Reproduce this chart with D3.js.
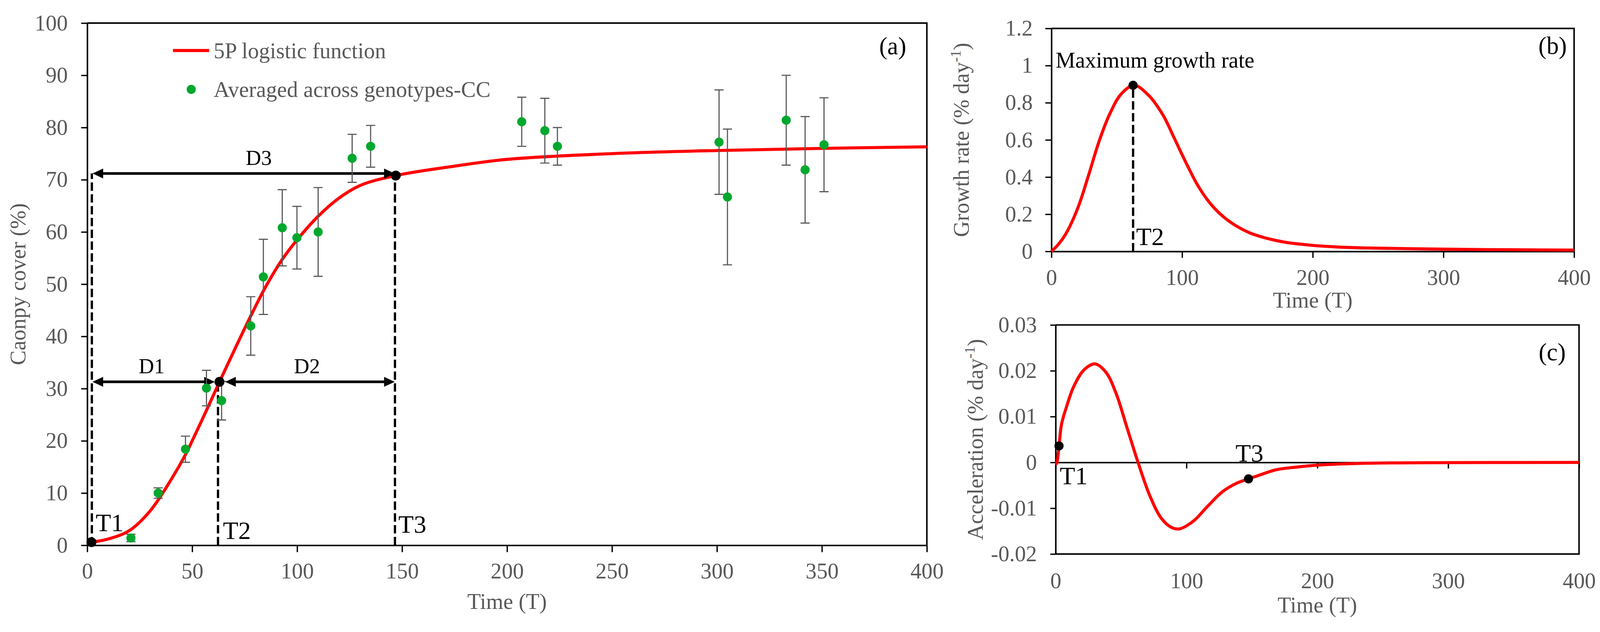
<!DOCTYPE html>
<html>
<head>
<meta charset="utf-8">
<script src="https://cdn.jsdelivr.net/npm/d3@7"></script>
<style>
  html, body { margin: 0; padding: 0; background: #fff; overflow: hidden; }
  #chart svg { display: block; width: 100vw; height: 100vh; }
  text { font-family: "Liberation Serif", "Times New Roman", serif; }
</style>
</head>
<body>
<div id="chart"></div>
<script>
// ---- values ----
// panel (a): averaged canopy cover with error bars
var obsTime = [20.8, 33.8, 46.8, 56.8, 64, 77.9, 83.9, 92.9, 99.9, 110, 126.2, 135, 207, 218, 224, 301, 305, 333, 342, 351];
var obsMean = [1.4, 10.0, 18.4, 30.1, 27.7, 42.0, 51.4, 60.8, 58.9, 60.0, 74.1, 76.4, 81.1, 79.4, 76.4, 77.2, 66.7, 81.4, 71.9, 76.7];
var obsErr  = [0.7, 1.0, 2.5, 3.4, 3.7, 5.6, 7.2, 7.3, 6.0, 8.5, 4.6, 4.0, 4.7, 6.2, 3.6, 10.0, 13.0, 8.6, 10.2, 9.0];

// panel (a): fitted 5P logistic curve
var fitTime  = [2, 10, 20, 30, 40, 47, 50, 57, 63, 70, 78, 85, 93, 100, 110, 120, 130, 147, 175, 200, 250, 300, 350, 400];
var fitCover = [0.6, 1.2, 2.8, 6.6, 12.6, 17.5, 20.0, 26.0, 31.3, 37.3, 44.0, 49.5, 54.8, 58.5, 63.0, 66.5, 68.9, 70.8, 72.6, 73.9, 75.0, 75.6, 76.0, 76.3];

// panel (b): growth rate
var rateTime = [0, 5, 11, 20, 28, 36.5, 44.4, 53.3, 63.2, 74.5, 85.7, 93.3, 103, 112.7, 122.4, 132.2, 141.9, 151.6, 161.3, 171, 180.8, 190.5, 200, 220, 240, 300, 350, 400];
var rate     = [0, 0.035, 0.094, 0.23, 0.40, 0.593, 0.736, 0.846, 0.894, 0.839, 0.73, 0.62, 0.477, 0.347, 0.251, 0.183, 0.135, 0.100, 0.077, 0.060, 0.047, 0.039, 0.032, 0.023, 0.0185, 0.012, 0.009, 0.007];

// panel (c): acceleration
var accTime = [0, 0.8, 2.6, 4.5, 8.4, 13.9, 21.7, 30.1, 38.4, 46.3, 54.1, 63, 71.9, 80.8, 88.6, 94.7, 105.3, 116.4, 127.5, 138.7, 147.4, 155.5, 168.6, 185, 200, 235, 300, 400];
var acc     = [-0.0004, -0.0002, 0.0036, 0.0083, 0.0122, 0.0166, 0.0202, 0.0215, 0.0197, 0.0150, 0.0080, 0, -0.0072, -0.0122, -0.0142, -0.0145, -0.0128, -0.0095, -0.0064, -0.0045, -0.0036, -0.0028, -0.0016, -0.0010, -0.0006, -0.0002, -0.00005, 0];

// key points
var keyNames = ["T1", "T2", "T3"];
var keyTimeA = [2.0, 63, 147];
var keyCover = [0.6, 31.3, 70.8];
var dashTime = [2.2, 62.3, 146.6];
var dashTop  = [71.2, 31.3, 70.8];

var spanNames = ["D1", "D2", "D3"];
var spanFrom  = [2.5, 65.7, 2.5];
var spanTo    = [60.8, 146.5, 146.5];
var spanLevel = [31.3, 31.3, 71.2];
var spanLabelT = [30.7, 104.7, 81.7];

var peakTime = 62.5, peakRate = 0.894;
var accKeyTime = [2.6, 147.4];
var accKeyVal  = [0.0036, -0.0036];

// tick labels
var ticksA_x = [0, 50, 100, 150, 200, 250, 300, 350, 400];
var ticksA_y = [0, 10, 20, 30, 40, 50, 60, 70, 80, 90, 100];
var ticksB_x = [0, 100, 200, 300, 400];
var ticksB_y = [0, 0.2, 0.4, 0.6, 0.8, 1, 1.2];
var ticksC_y = [-0.02, -0.01, 0, 0.01, 0.02, 0.03];

var grey = "#595959", green = "#00a82d", red = "#ff0000";
var fs = 58;

var svg = d3.select("#chart").append("svg")
    .attr("viewBox", "0 0 4200 1617")
    .attr("width", 4200)
    .attr("height", 1617);

// scales
var xA = d3.scaleLinear().domain([0, 400]).range([229, 2433]);
var yA = d3.scaleLinear().domain([0, 100]).range([1410, 40]);
var xB = d3.scaleLinear().domain([0, 400]).range([2760, 4132]);
var yB = d3.scaleLinear().domain([0, 1.2]).range([639, 54]);
var xC = d3.scaleLinear().domain([0, 400]).range([2771, 4145]);
var yC = d3.scaleLinear().domain([-0.02, 0.03]).range([1433, 832]);

function styleAxis(g, showText) {
    g.select(".domain").attr("stroke", "#000").attr("stroke-width", 4);
    g.selectAll(".tick line").attr("stroke", "#000").attr("stroke-width", 3.5);
    g.selectAll(".tick text")
        .attr("fill", grey)
        .style("font-size", fs + "px")
        .style("font-family", '"Liberation Serif", serif')
        .style("display", showText ? null : "none");
}

function frame(x, y) {
    svg.append("path")
        .attr("d", "M" + x.range()[0] + "," + y.range()[1] + "H" + x.range()[1] + "V" + y.range()[0])
        .attr("fill", "none")
        .attr("stroke", "#000")
        .attr("stroke-width", 4);
}

function fmt(d) { return String(+d.toFixed(3)); }

var smooth = d3.curveCatmullRom.alpha(0.5);

// ================= panel (a) =================
frame(xA, yA);
svg.append("g").attr("transform", "translate(0," + yA(0) + ")")
    .call(d3.axisBottom(xA).tickValues(ticksA_x).tickSizeInner(18).tickSizeOuter(0).tickPadding(28).tickFormat(fmt))
    .call(styleAxis, true);
svg.append("g").attr("transform", "translate(" + xA(0) + ",0)")
    .call(d3.axisLeft(yA).tickValues(ticksA_y).tickSizeInner(16).tickSizeOuter(0).tickPadding(35).tickFormat(fmt))
    .call(styleAxis, true);

// dashed guide lines
svg.selectAll(".dashA").data(dashTime).enter().append("line")
    .attr("x1", function(d) { return xA(d); })
    .attr("x2", function(d) { return xA(d); })
    .attr("y1", yA(0))
    .attr("y2", function(d, i) { return yA(dashTop[i]); })
    .attr("stroke", "#000").attr("stroke-width", 6).attr("stroke-dasharray", "22,9");

// fitted curve
var lineA = d3.line().x(function(d) { return xA(d[0]); }).y(function(d) { return yA(d[1]); }).curve(smooth);
svg.append("path")
    .datum(d3.zip(fitTime, fitCover))
    .attr("d", lineA)
    .attr("fill", "none").attr("stroke", red).attr("stroke-width", 8);

// double arrows
var headLen = 28, headHalf = 13;
spanNames.forEach(function(name, i) {
    var x1 = xA(spanFrom[i]), x2 = xA(spanTo[i]), y = yA(spanLevel[i]);
    svg.append("line")
        .attr("x1", x1 + headLen - 2).attr("x2", x2 - headLen + 2)
        .attr("y1", y).attr("y2", y)
        .attr("stroke", "#000").attr("stroke-width", 7);
    svg.append("path")
        .attr("d", "M" + x1 + "," + y + "l" + headLen + "," + (-headHalf) + "v" + (2 * headHalf) + "Z" +
                   "M" + x2 + "," + y + "l" + (-headLen) + "," + (-headHalf) + "v" + (2 * headHalf) + "Z")
        .attr("fill", "#000");
    svg.append("text")
        .attr("x", xA(spanLabelT[i]))
        .attr("y", y - 22)
        .attr("text-anchor", "middle")
        .style("font-size", "56px")
        .text(name);
});

// error bars
var errG = svg.append("g").attr("stroke", grey).attr("stroke-width", 3).attr("fill", "none");
obsTime.forEach(function(t, i) {
    var cx = xA(t), top = yA(obsMean[i] + obsErr[i]), bot = yA(obsMean[i] - obsErr[i]);
    errG.append("path")
        .attr("d", "M" + cx + "," + top + "V" + bot +
                   "M" + (cx - 12) + "," + top + "H" + (cx + 12) +
                   "M" + (cx - 12) + "," + bot + "H" + (cx + 12));
});

// observed points
svg.selectAll(".obs").data(obsTime).enter().append("circle")
    .attr("cx", function(d) { return xA(d); })
    .attr("cy", function(d, i) { return yA(obsMean[i]); })
    .attr("r", 12)
    .attr("fill", green);

// key points and T labels
svg.selectAll(".keyA").data(keyTimeA).enter().append("circle")
    .attr("cx", function(d) { return xA(d); })
    .attr("cy", function(d, i) { return yA(keyCover[i]); })
    .attr("r", 13).attr("fill", "#000");

var tLabelDx = [10, 13, 9];
var tLabelY  = [2.7, 1.2, 2.4];
keyNames.forEach(function(name, i) {
    svg.append("text")
        .attr("x", xA(dashTime[i]) + tLabelDx[i])
        .attr("y", yA(tLabelY[i]))
        .style("font-size", "66px")
        .text(name);
});

// legend
svg.append("line").attr("x1", 454).attr("x2", 549).attr("y1", 112).attr("y2", 112)
    .attr("stroke", red).attr("stroke-width", 8);
svg.append("text").attr("x", 561).attr("y", 132).attr("fill", grey)
    .style("font-size", fs + "px").text("5P logistic function");
svg.append("circle").attr("cx", 502).attr("cy", 214).attr("r", 12).attr("fill", green);
svg.append("text").attr("x", 561).attr("y", 234).attr("fill", grey)
    .style("font-size", fs + "px").text("Averaged across genotypes-CC");

svg.append("text").attr("x", 2379).attr("y", 122).attr("text-anchor", "end")
    .style("font-size", "64px").text("(a)");

// axis titles
svg.append("text").attr("x", (xA.range()[0] + xA.range()[1]) / 2).attr("y", 1577)
    .attr("text-anchor", "middle").attr("fill", grey).style("font-size", fs + "px").text("Time (T)");
svg.append("text")
    .attr("transform", "translate(67," + (yA.range()[0] + yA.range()[1]) / 2 + ") rotate(-90)")
    .attr("text-anchor", "middle").attr("fill", grey).style("font-size", fs + "px")
    .text("Caonpy cover (%)");

// ================= panel (b) =================
frame(xB, yB);
svg.append("g").attr("transform", "translate(0," + yB(0) + ")")
    .call(d3.axisBottom(xB).tickValues(ticksB_x).tickSizeInner(17).tickSizeOuter(0).tickPadding(30).tickFormat(fmt))
    .call(styleAxis, true);
svg.append("g").attr("transform", "translate(" + xB(0) + ",0)")
    .call(d3.axisLeft(yB).tickValues(ticksB_y).tickSizeInner(16).tickSizeOuter(0).tickPadding(33).tickFormat(fmt))
    .call(styleAxis, true);

svg.append("line")
    .attr("x1", xB(peakTime)).attr("x2", xB(peakTime))
    .attr("y1", yB(0)).attr("y2", yB(peakRate))
    .attr("stroke", "#000").attr("stroke-width", 6).attr("stroke-dasharray", "22,9");

var lineB = d3.line().x(function(d) { return xB(d[0]); }).y(function(d) { return yB(d[1]); }).curve(smooth);
svg.append("path")
    .datum(d3.zip(rateTime, rate))
    .attr("d", lineB)
    .attr("fill", "none").attr("stroke", red).attr("stroke-width", 8);

svg.append("circle").attr("cx", xB(peakTime)).attr("cy", yB(peakRate)).attr("r", 12).attr("fill", "#000");
svg.append("text").attr("x", xB(peakTime) + 8).attr("y", yB(0.035))
    .style("font-size", "66px").text("T2");
svg.append("text").attr("x", xB(0) + 11).attr("y", yB(0.99))
    .style("font-size", fs + "px").text("Maximum growth rate");
svg.append("text").attr("x", 4113).attr("y", 121).attr("text-anchor", "end")
    .style("font-size", "64px").text("(b)");

svg.append("text").attr("x", (xB.range()[0] + xB.range()[1]) / 2).attr("y", 786)
    .attr("text-anchor", "middle").attr("fill", grey).style("font-size", fs + "px").text("Time (T)");
var tb = svg.append("text")
    .attr("transform", "translate(2543," + (yB.range()[0] + yB.range()[1]) / 2 + ") rotate(-90)")
    .attr("text-anchor", "middle").attr("fill", grey).style("font-size", fs + "px");
tb.append("tspan").text("Growth rate (% day");
tb.append("tspan").attr("dy", -22).style("font-size", "38px").text("-1");
tb.append("tspan").attr("dy", 22).text(")");

// ================= panel (c) =================
svg.append("path")
    .attr("d", "M" + xC.range()[0] + "," + yC.range()[1] + "H" + xC.range()[1] + "V" + yC.range()[0] + "H" + xC.range()[0])
    .attr("fill", "none").attr("stroke", "#000").attr("stroke-width", 4);
svg.append("g").attr("transform", "translate(0," + yC(0) + ")")
    .call(d3.axisBottom(xC).tickValues(ticksB_x).tickSizeInner(16).tickSizeOuter(0).tickFormat(fmt))
    .call(styleAxis, false);
var cLabels = svg.append("g").attr("transform", "translate(0," + yC(-0.02) + ")")
    .call(d3.axisBottom(xC).tickValues(ticksB_x).tickSize(0).tickPadding(49).tickFormat(fmt))
    .call(styleAxis, true);
cLabels.select(".domain").remove();
svg.append("g").attr("transform", "translate(" + xC(0) + ",0)")
    .call(d3.axisLeft(yC).tickValues(ticksC_y).tickSizeInner(14).tickSizeOuter(0).tickPadding(35).tickFormat(fmt))
    .call(styleAxis, true);

var lineC = d3.line().x(function(d) { return xC(d[0]); }).y(function(d) { return yC(d[1]); }).curve(smooth);
svg.append("path")
    .datum(d3.zip(accTime, acc))
    .attr("d", lineC)
    .attr("fill", "none").attr("stroke", red).attr("stroke-width", 8);

svg.selectAll(".keyC").data(accKeyTime).enter().append("circle")
    .attr("cx", function(d) { return xC(d); })
    .attr("cy", function(d, i) { return yC(accKeyVal[i]); })
    .attr("r", 12).attr("fill", "#000");
svg.append("text").attr("x", xC(accKeyTime[0]) + 2).attr("y", yC(-0.0048))
    .style("font-size", "66px").text("T1");
svg.append("text").attr("x", xC(accKeyTime[1]) - 34).attr("y", yC(0.0002))
    .style("font-size", "66px").text("T3");
svg.append("text").attr("x", 4110).attr("y", 925).attr("text-anchor", "end")
    .style("font-size", "64px").text("(c)");

svg.append("text").attr("x", (xC.range()[0] + xC.range()[1]) / 2).attr("y", 1586)
    .attr("text-anchor", "middle").attr("fill", grey).style("font-size", fs + "px").text("Time (T)");
var tc = svg.append("text")
    .attr("transform", "translate(2580," + (yC.range()[0] + yC.range()[1]) / 2 + ") rotate(-90)")
    .attr("text-anchor", "middle").attr("fill", grey).style("font-size", fs + "px");
tc.append("tspan").text("Acceleration (% day");
tc.append("tspan").attr("dy", -22).style("font-size", "38px").text("-1");
tc.append("tspan").attr("dy", 22).text(")");
</script>
</body>
</html>
